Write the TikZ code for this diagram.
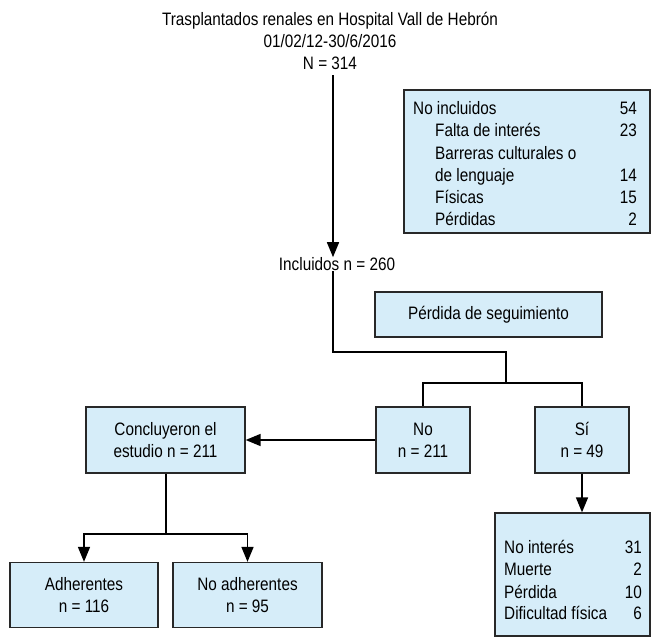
\documentclass[tikz,border=0pt]{standalone}
\usepackage{fontspec}
\setmainfont{Liberation Sans}[FakeStretch=0.85]
\usetikzlibrary{arrows.meta}
\definecolor{boxfill}{RGB}{214,237,249}
\definecolor{edge}{RGB}{40,40,40}
\tikzset{
  box/.style={draw=edge, fill=boxfill, line width=1.3pt, inner sep=0pt, align=center},
  lbl/.style={inner sep=0pt, font=\fontsize{18}{22}\selectfont},
  conn/.style={draw=black, line width=1.6pt},
  arr/.style={conn, -{Triangle[length=15pt,width=12pt]}}
}
\begin{document}
\begin{tikzpicture}[x=1pt,y=-1pt]
\useasboundingbox (0,0) rectangle (655,640);
% title
\node[lbl, align=center] (title) at (330,41) {Trasplantados renales en Hospital Vall de Hebrón\\01/02/12-30/6/2016\\N = 314};
\coordinate (tbot) at (333,75);
\node[lbl] (incl) at (337,264) {Incluidos n = 260};
\draw[arr] (tbot) -- (tbot |- incl.north);

% No incluidos box
\node[box, minimum width=246pt, minimum height=143pt] (noinc) at (527,161.5) {};
\node[lbl, anchor=base west] (ni1) at (413,114) {No incluidos};
\node[lbl, anchor=base east] (ni1n) at (637,114) {54};
\node[lbl, anchor=base west] (ni2) at (435,136) {Falta de interés};
\node[lbl, anchor=base east] (ni2n) at (637,136) {23};
\node[lbl, anchor=base west] (ni3) at (435,159) {Barreras culturales o};
\node[lbl, anchor=base west] (ni4) at (435,181) {de lenguaje};
\node[lbl, anchor=base east] (ni4n) at (637,181) {14};
\node[lbl, anchor=base west] (ni5) at (435,203) {Físicas};
\node[lbl, anchor=base east] (ni5n) at (637,203) {15};
\node[lbl, anchor=base west] (ni6) at (435,225) {Pérdidas};
\node[lbl, anchor=base east] (ni6n) at (637,225) {2};

% Perdida de seguimiento
\node[box, lbl, minimum width=227pt, minimum height=45pt] (perd) at (488.5,314.5) {Pérdida de seguimiento};

% No / Si boxes
\node[box, lbl, minimum width=94pt, minimum height=66pt] (no) at (423,440) {No\\n = 211};
\node[box, lbl, minimum width=94pt, minimum height=66pt] (si) at (582,440) {Sí\\n = 49};
\coordinate (j1) at (333,352);
\coordinate (j2) at (506,352);
\coordinate (j3) at (506,383);
\draw[conn] (j1 |- incl.south) -- (j1) -- (j2) -- (j3);
\draw[conn] (no.north) |- (j3) -| (si.north);

% Concluyeron
\node[box, lbl, minimum width=159pt, minimum height=66pt] (conc) at (165.5,440) {Concluyeron el\\estudio n = 211};
\draw[arr] (no.west) -- (conc.east);

% Adherentes
\node[box, lbl, minimum width=148pt, minimum height=65pt] (adh) at (84,595) {Adherentes\\n = 116};
\node[box, lbl, minimum width=149pt, minimum height=65pt] (noadh) at (247.5,595) {No adherentes\\n = 95};
\coordinate (k1) at (166,534);
\draw[conn] (k1 |- conc.south) -- (k1);
\draw[arr] (k1) -| (adh.north);
\draw[arr] (k1) -| (noadh.north);

% Bottom right box
\node[box, minimum width=155pt, minimum height=123pt] (loss) at (572.5,574.5) {};
\draw[arr] (si.south) -- (si.south |- loss.north);
\node[lbl, anchor=base west] (l1) at (504,553) {No interés};
\node[lbl, anchor=base east] (l1n) at (642,553) {31};
\node[lbl, anchor=base west] (l2) at (504,575) {Muerte};
\node[lbl, anchor=base east] (l2n) at (642,575) {2};
\node[lbl, anchor=base west] (l3) at (504,598) {Pérdida};
\node[lbl, anchor=base east] (l3n) at (642,598) {10};
\node[lbl, anchor=base west] (l4) at (504,619) {Dificultad física};
\node[lbl, anchor=base east] (l4n) at (642,619) {6};
\end{tikzpicture}
\end{document}
